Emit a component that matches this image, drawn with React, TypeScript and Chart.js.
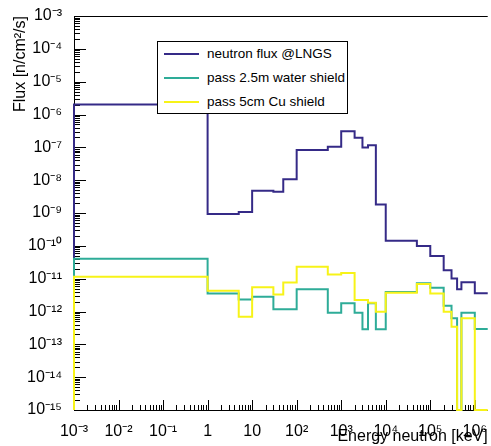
import React, { useEffect, useRef } from "react";
import { Chart, registerables } from "chart.js";

Chart.register(...registerables);

// Bin edges of the histograms (keV)
const binEdges = [1e-3, 1, 5, 10, 30, 50, 100, 500, 1000, 2000, 3000, 4000, 6000, 1e4, 5e4, 1e5, 2e5, 3e5, 4e5, 5e5, 1e6, 1e7];

// Bin contents (n/cm^2/s)
const fluxLNGS = [2.0e-6, 9.3e-10, 1.07e-9, 4.8e-9, 4.4e-9, 1.07e-8, 8.3e-8, 1.05e-7, 3.1e-7, 1.96e-7, 9.8e-8, 1.15e-7, 1.8e-9, 1.44e-10, 9.8e-11, 4.9e-11, 1.8e-11, 1.02e-11, 4.8e-12, 7.8e-12, 3.6e-12];
const fluxWater = [4.07e-11, 3.56e-12, 2.34e-12, 2.8e-12, 1.17e-12, 1.17e-12, 4.8e-12, 9.1e-13, 1.78e-12, 9.1e-13, 2.9e-13, 1.78e-12, 2.9e-13, 3.9e-12, 7.2e-12, 5.3e-12, 1.5e-12, 6.2e-13, 0, 9.1e-13, 2.95e-13];
const fluxCu = [1.15e-11, 4.3e-12, 6.9e-13, 5.5e-12, 3.3e-12, 7.6e-12, 2.3e-11, 1.35e-11, 1.5e-11, 2.24e-12, 2.24e-12, 1.85e-12, 9.8e-13, 3.7e-12, 6.9e-12, 3.56e-12, 9.8e-13, 3.45e-13, 0, 6.2e-13, 0];

const seriesLabels = ["neutron flux @LNGS", "pass 2.5m water shield", "pass 5cm Cu shield"];
const seriesColors = ["rgb(53,42,135)", "rgb(46,172,152)", "rgb(247,243,24)"];

const xTicks = [1e-3, 1e-2, 1e-1, 1, 10, 1e2, 1e3, 1e4, 1e5, 1e6];
const xTickLabels = ["10⁻³", "10⁻²", "10⁻¹", "1", "10", "10²", "10³", "10⁴", "10⁵", "10⁶"];
const yTicks = [1e-15, 1e-14, 1e-13, 1e-12, 1e-11, 1e-10, 1e-9, 1e-8, 1e-7, 1e-6, 1e-5, 1e-4, 1e-3];
const yTickLabels = ["10⁻¹⁵", "10⁻¹⁴", "10⁻¹³", "10⁻¹²", "10⁻¹¹", "10⁻¹⁰", "10⁻⁹", "10⁻⁸", "10⁻⁷", "10⁻⁶", "10⁻⁵", "10⁻⁴", "10⁻³"];

const X_MIN = 1e-3;
const X_MAX = 1.95e6;
const Y_MIN = 1e-15;
const Y_MAX = 1e-3;

const FONT = '"Liberation Sans", Arial, Helvetica, sans-serif';

function histPoints(values: number[]) {
  const pts: { x: number; y: number }[] = [{ x: binEdges[0], y: Y_MIN }];
  values.forEach((v, i) => pts.push({ x: binEdges[i], y: v > 0 ? v : Y_MIN }));
  pts.push({ x: binEdges[binEdges.length - 1], y: Y_MIN });
  return pts;
}

function labelFor(v: number, ticks: number[], labels: string[]) {
  const i = ticks.findIndex((t) => Math.abs(Math.log10(t) - Math.log10(v)) < 1e-6);
  return i >= 0 ? labels[i] : "";
}

const rootAxes = {
  id: "rootAxes",
  beforeDatasetsDraw(chart: any) {
    const { ctx, chartArea: a, scales } = chart;
    const x = scales.x;
    const y = scales.y;
    ctx.save();
    ctx.strokeStyle = "#000";
    ctx.lineWidth = 1;
    ctx.beginPath();
    ctx.moveTo(a.left + 0.5, a.bottom + 0.5);
    ctx.lineTo(a.left + 0.5, a.top + 0.5);
    ctx.lineTo(a.right, a.top + 0.5);
    ctx.moveTo(a.left, a.bottom + 0.5);
    ctx.lineTo(a.right, a.bottom + 0.5);
    for (let e = -3; e <= 6; e++) {
      for (let m = 1; m <= 9; m++) {
        const v = m * Math.pow(10, e);
        if (v < X_MIN * 0.9999 || v > X_MAX) continue;
        const px = Math.round(x.getPixelForValue(v)) + 0.5;
        const len = m === 1 ? 10 : 5;
        ctx.moveTo(px, a.bottom);
        ctx.lineTo(px, a.bottom - len);
      }
    }
    for (let e = -15; e <= -3; e++) {
      for (let m = 1; m <= 9; m++) {
        const v = m * Math.pow(10, e);
        if (v > Y_MAX * 1.0001) continue;
        const py = Math.round(y.getPixelForValue(v)) + 0.5;
        const len = m === 1 ? 12 : 6;
        ctx.moveTo(a.left, py);
        ctx.lineTo(a.left + len, py);
      }
    }
    ctx.stroke();
    ctx.restore();
  },
};

export default function App() {
  const canvasRef = useRef<HTMLCanvasElement | null>(null);

  useEffect(() => {
    if (!canvasRef.current) return;
    const allSeries = [fluxLNGS, fluxWater, fluxCu];
    const chart = new Chart(canvasRef.current, {
      type: "line",
      data: {
        datasets: allSeries.map((vals, i) => ({
          label: seriesLabels[i],
          data: histPoints(vals),
          borderColor: seriesColors[i],
          backgroundColor: seriesColors[i],
          borderWidth: 2,
          pointRadius: 0,
          stepped: "before" as const,
          fill: false,
          order: 2 - i,
          clip: { left: 2, top: 0, right: 0, bottom: 2 } as any,
        })),
      },
      options: {
        animation: false,
        responsive: false,
        devicePixelRatio: 1,
        events: [],
        layout: { padding: { top: 16, right: 0, left: 0, bottom: 0 } },
        plugins: {
          legend: { display: false },
          tooltip: { enabled: false },
        },
        scales: {
          x: {
            type: "logarithmic",
            position: "bottom",
            min: X_MIN,
            max: X_MAX,
            grid: { display: false },
            border: { display: false },
            afterBuildTicks: (scale: any) => {
              scale.ticks = xTicks.map((v) => ({ value: v }));
            },
            afterFit: (scale: any) => {
              scale.height = 36;
            },
            ticks: {
              autoSkip: false,
              maxRotation: 0,
              padding: 4,
              color: "#000",
              font: { family: FONT, size: 16 },
              callback: (v: any) => labelFor(Number(v), xTicks, xTickLabels),
            },
            title: {
              display: true,
              text: "Energy neutron [keV]",
              align: "end",
              color: "#000",
              font: { family: FONT, size: 16 },
              padding: { top: 0, bottom: 0 },
            },
          },
          y: {
            type: "logarithmic",
            position: "left",
            min: Y_MIN,
            max: Y_MAX,
            grid: { display: false },
            border: { display: false },
            afterBuildTicks: (scale: any) => {
              scale.ticks = yTicks.map((v) => ({ value: v }));
            },
            afterFit: (scale: any) => {
              scale.width = 74;
            },
            ticks: {
              autoSkip: false,
              padding: 4,
              color: "#000",
              font: { family: FONT, size: 16 },
              callback: (v: any) => labelFor(Number(v), yTicks, yTickLabels),
            },
            title: {
              display: true,
              text: "Flux [n/cm²/s]",
              align: "end",
              color: "#000",
              font: { family: FONT, size: 16 },
              padding: { top: 11, bottom: 0 },
            },
          },
        },
      } as any,
      plugins: [rootAxes],
    });
    return () => chart.destroy();
  }, []);

  const rowY = [12, 36, 60];

  return (
    <div style={{ position: "fixed", left: 0, top: 0, width: 491, height: 446, background: "#fff" }}>
      <canvas ref={canvasRef} width={491} height={446} style={{ display: "block", width: 491, height: 446 }} />
      <div
        style={{
          position: "absolute",
          left: 157,
          top: 41,
          width: 191,
          height: 73,
          border: "1px solid #000",
          background: "#fff",
          boxSizing: "border-box",
          fontFamily: FONT,
          fontSize: 13.5,
          color: "#000",
        }}
      >
        {seriesLabels.map((lab, i) => (
          <div key={lab} style={{ position: "absolute", left: 0, top: rowY[i] - 10, height: 20, width: "100%" }}>
            <div
              style={{
                position: "absolute",
                left: 6,
                top: 9,
                width: 35,
                height: 2,
                background: seriesColors[i],
              }}
            />
            <div style={{ position: "absolute", left: 49, top: 0, lineHeight: "20px", whiteSpace: "nowrap" }}>{lab}</div>
          </div>
        ))}
      </div>
    </div>
  );
}
